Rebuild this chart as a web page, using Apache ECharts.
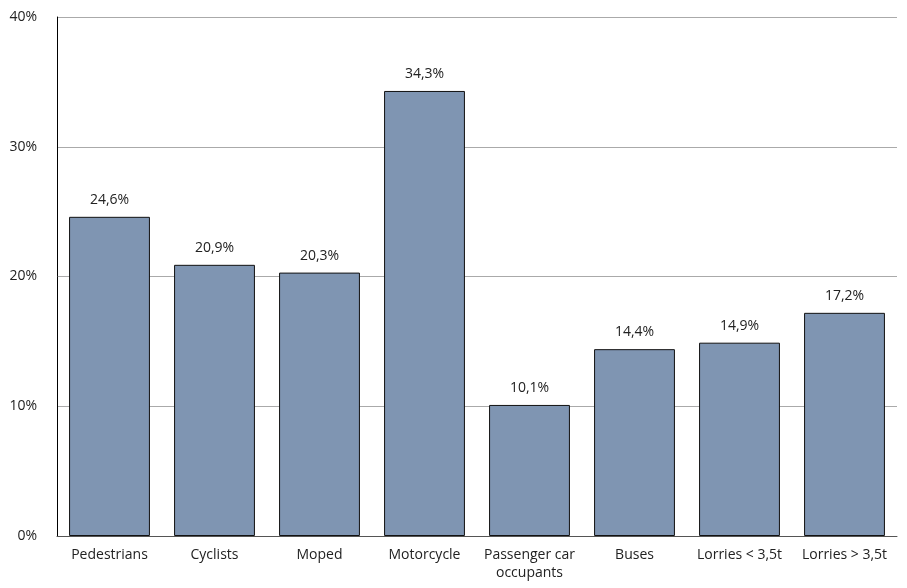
<!DOCTYPE html>
<html>
<head>
<meta charset="utf-8">
<script src="https://cdn.jsdelivr.net/npm/echarts@6/dist/echarts.min.js"></script>
<style>
  html, body { margin: 0; padding: 0; background: #fff; }
  #chart { width: 907px; height: 588px; }
</style>
</head>
<body>
<div id="chart"></div>
<script>
// categories along the x axis
const categories = ['Pedestrians', 'Cyclists', 'Moped', 'Motorcycle', 'Passenger car\noccupants', 'Buses', 'Lorries < 3,5t', 'Lorries > 3,5t']
// share in percent
const shares = [24.6, 20.9, 20.3, 34.3, 10.1, 14.4, 14.9, 17.2]

const chart = echarts.init(document.getElementById('chart'))

const fontFamily = '"Open Sans", "Noto Sans", sans-serif'

chart.setOption({
  animation: false,
  grid: { left: 57, right: 10, top: 17, bottom: 52 },
  xAxis: {
    type: 'category',
    data: categories,
    axisLine: { lineStyle: { color: '#555', width: 1 } },
    axisTick: { show: false },
    axisLabel: {
      color: '#222',
      fontSize: 14,
      fontFamily: fontFamily,
      margin: 10,
      interval: 0,
      lineHeight: 18
    }
  },
  yAxis: {
    type: 'value',
    min: 0,
    max: 40,
    interval: 10,
    axisLine: { show: true, lineStyle: { color: '#000', width: 1 } },
    axisTick: { show: false },
    splitLine: { lineStyle: { color: '#aaa', width: 1 } },
    axisLabel: {
      color: '#222',
      fontSize: 14,
      fontFamily: fontFamily,
      margin: 20,
      formatter: '{value}%'
    }
  },
  series: [
    {
      type: 'bar',
      data: shares,
      barWidth: '77%',
      itemStyle: {
        color: '#7f95b2',
        borderColor: '#111',
        borderWidth: 1
      },
      label: {
        show: true,
        position: 'top',
        distance: 10,
        color: '#222',
        fontSize: 14,
        fontFamily: fontFamily,
        formatter: (p) => p.value.toFixed(1).replace('.', ',') + '%'
      }
    }
  ]
})
</script>
</body>
</html>
